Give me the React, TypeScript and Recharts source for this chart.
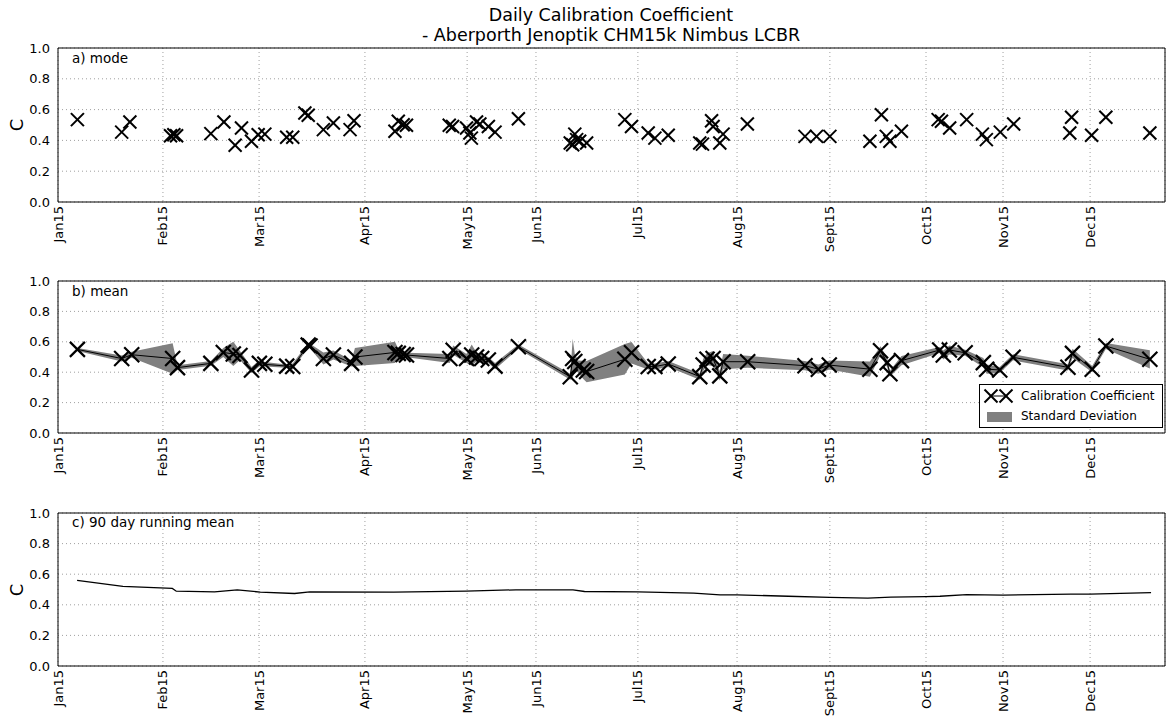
import React from 'react';
import {
  ComposedChart, XAxis, YAxis, CartesianGrid, Scatter, Line, Area, ReferenceArea,
} from 'recharts';

// x axis is in "day" units, 0..365 across the plot width
const tickDays = [0, 34.6, 66.3, 101.2, 134.9, 157.6, 191.2, 223.9, 254.5, 286.2, 311.6, 340.3];
const tickLabels = ['Jan15', 'Feb15', 'Mar15', 'Apr15', 'May15', 'Jun15', 'Jul15', 'Aug15', 'Sept15', 'Oct15', 'Nov15', 'Dec15'];
const yTicks = [0, 0.2, 0.4, 0.6, 0.8, 1.0];

// a) mode
const modeDays = [
  6.4, 21.0, 23.7, 37.1, 38.2, 39.1, 50.4, 54.7, 58.4, 60.5, 63.8, 66.0, 68.2, 75.4, 77.4,
  81.4, 82.5, 87.5, 90.8, 96.3, 97.6, 111.1, 112.2, 113.8, 114.9, 129.0, 130.1, 134.7, 135.8,
  136.3, 138.0, 139.1, 141.9, 144.1, 151.8, 168.9, 169.7, 170.4, 171.0, 172.0, 174.3, 186.9,
  189.1, 194.6, 196.8, 201.2, 211.6, 212.5, 215.5, 216.0, 218.2, 219.3, 227.3, 246.3, 250.1,
  254.5, 267.7, 271.5, 273.1, 274.3, 278.1, 290.2, 291.3, 294.0, 299.6, 304.8, 306.1, 310.7,
  315.1, 333.6, 334.2, 340.8, 345.5, 360.0,
];
const modeValues = [
  0.535, 0.454, 0.52, 0.43, 0.437, 0.43, 0.444, 0.52, 0.368, 0.48, 0.394, 0.437, 0.441, 0.42, 0.42,
  0.578, 0.563, 0.47, 0.513, 0.47, 0.528, 0.459, 0.524, 0.502, 0.498, 0.498, 0.49, 0.48, 0.448,
  0.415, 0.52, 0.507, 0.49, 0.454, 0.541, 0.383, 0.372, 0.441, 0.405, 0.394, 0.383, 0.535,
  0.49, 0.448, 0.415, 0.433, 0.383, 0.376, 0.528, 0.49, 0.383, 0.441, 0.507, 0.426, 0.426,
  0.426, 0.394, 0.567, 0.426, 0.394, 0.459, 0.535, 0.524, 0.48, 0.535, 0.441, 0.405, 0.454,
  0.507, 0.448, 0.55, 0.433, 0.55, 0.448,
];

// b) mean and standard deviation
const meanDays = [
  6.4, 21.0, 24.3, 37.8, 39.4, 50.4, 54.5, 57.8, 60.0, 63.8, 66.4, 68.2, 75.4, 77.4, 82.5, 83.1,
  87.5, 90.8, 96.8, 97.9, 111.1, 112.2, 113.8, 114.9, 129.2, 130.3, 134.7, 136.4, 138.0, 139.7,
  141.9, 144.1, 151.8, 168.9, 169.7, 170.4, 171.5, 173.2, 174.3, 186.9, 189.1, 194.6, 196.8,
  201.2, 211.6, 212.7, 214.0, 216.0, 218.2, 219.3, 227.4, 246.3, 250.7, 254.3, 267.7, 271.2,
  273.4, 274.3, 278.1, 290.7, 291.9, 293.9, 299.1, 305.1, 306.2, 310.5, 314.9, 333.0, 334.5,
  341.0, 345.5, 360.0,
];
const meanValues = [
  0.55, 0.49, 0.515, 0.49, 0.43, 0.458, 0.53, 0.52, 0.51, 0.415, 0.458, 0.452, 0.44, 0.437, 0.578, 0.572,
  0.49, 0.513, 0.458, 0.50, 0.53, 0.524, 0.517, 0.513, 0.49, 0.545, 0.49, 0.513, 0.50, 0.49,
  0.48, 0.44, 0.567, 0.37, 0.49, 0.47, 0.437, 0.415, 0.404, 0.485, 0.528, 0.437, 0.437,
  0.454, 0.371, 0.447, 0.485, 0.49, 0.376, 0.469, 0.469, 0.443, 0.42, 0.447, 0.42, 0.541,
  0.463, 0.39, 0.476, 0.546, 0.513, 0.546, 0.528, 0.463, 0.42, 0.415, 0.498, 0.432, 0.524,
  0.42, 0.572, 0.485,
];
const meanStd = [
  0.01, 0.02, 0.02, 0.10, 0.015, 0.015, 0.03, 0.08, 0.03, 0.02, 0.02, 0.015, 0.01, 0.02, 0.015, 0.015,
  0.04, 0.03, 0.02, 0.06, 0.07, 0.03, 0.02, 0.015, 0.03, 0.03, 0.03, 0.07, 0.03, 0.03,
  0.02, 0.02, 0.015, 0.02, 0.13, 0.05, 0.04, 0.06, 0.07, 0.10, 0.07, 0.02, 0.02,
  0.02, 0.02, 0.04, 0.04, 0.05, 0.03, 0.05, 0.04, 0.03, 0.03, 0.03, 0.05, 0.03,
  0.03, 0.02, 0.03, 0.02, 0.03, 0.03, 0.02, 0.03, 0.03, 0.02, 0.02, 0.02, 0.03,
  0.02, 0.02, 0.06,
];

// c) 90 day running mean
const runDays = [
  6.3, 21.4, 37.7, 39.0, 51.6, 59.1, 66.7, 78.0, 83.0, 110.7, 134.6, 151.0, 169.8, 173.6,
  191.2, 209.6, 218.3, 223.9, 240.8, 254.5, 267.0, 274.6, 286.2, 290.8, 299.6, 311.6, 334.0,
  340.3, 360.4,
];
const runValues = [
  0.559, 0.52, 0.507, 0.489, 0.485, 0.498, 0.483, 0.474, 0.485, 0.483, 0.489, 0.498, 0.498, 0.487,
  0.485, 0.476, 0.465, 0.465, 0.456, 0.448, 0.443, 0.45, 0.454, 0.456, 0.467, 0.463, 0.47,
  0.47, 0.48,
];

const modeData = modeDays.map((d, i) => ({ d, v: modeValues[i] }));
const meanData = meanDays.map((d, i) => ({
  d, v: meanValues[i], band: [meanValues[i] - meanStd[i], meanValues[i] + meanStd[i]],
}));
const runData = runDays.map((d, i) => ({ d, v: runValues[i] }));

const FONT = '"DejaVu Sans", sans-serif';
const W = 1173;

const XMark = ({ cx, cy, r, w }: any) => {
  if (cx == null || cy == null) return null;
  return (
    <g>
      <line x1={cx - r} y1={cy - r} x2={cx + r} y2={cy + r} stroke="#000" strokeWidth={w} />
      <line x1={cx - r} y1={cy + r} x2={cx + r} y2={cy - r} stroke="#000" strokeWidth={w} />
    </g>
  );
};

const XTick = ({ x, y, payload }: any) => {
  const i = tickDays.indexOf(payload.value);
  return (
    <text
      x={x} y={y} transform={`rotate(-90 ${x} ${y})`} textAnchor="end" dy="0.35em"
      fontSize={13} fill="#000" fontFamily={FONT}
    >
      {tickLabels[i]}
    </text>
  );
};

function axes() {
  return [
    <CartesianGrid key="g" stroke="#888" strokeDasharray="1 3" strokeWidth={0.8} />,
    <XAxis
      key="x" type="number" dataKey="d" domain={[0, 365]} ticks={tickDays} interval={0}
      tick={<XTick />} height={44} axisLine={false} tickLine={false} tickSize={3} tickMargin={1}
    />,
    <YAxis
      key="y" type="number" domain={[0, 1]} ticks={yTicks} width={50}
      tickFormatter={(v: number) => v.toFixed(1)} axisLine={false} tickLine={false}
      tick={{ fontSize: 13, fill: '#000', fontFamily: FONT }}
    />,
    <ReferenceArea key="frame" x1={0} x2={365} y1={0} y2={1} fill="none" stroke="#000" strokeWidth={1} strokeOpacity={1} />,
  ];
}

const margin = { top: 48, right: 8, bottom: 16, left: 8 };
const txt = (extra: React.CSSProperties): React.CSSProperties => ({
  position: 'absolute', fontFamily: FONT, color: '#000', whiteSpace: 'nowrap', lineHeight: 1, ...extra,
});

export default function App() {
  return (
    <div style={{ position: 'absolute', left: 0, top: 0, width: W, height: 720, background: '#fff', overflow: 'hidden' }}>
      <div style={txt({ left: 0, width: 1222, textAlign: 'center', top: 7, fontSize: 17.5 })}>
        Daily Calibration Coefficient
      </div>
      <div style={txt({ left: 0, width: 1222, textAlign: 'center', top: 27, fontSize: 17.5 })}>
        - Aberporth Jenoptik CHM15k Nimbus LCBR
      </div>

      {/* a) mode */}
      <div style={{ position: 'absolute', left: 0, top: 0 }}>
        <ComposedChart width={W} height={262} data={modeData} margin={margin}>
          {axes()}
          <Scatter
            dataKey="v" isAnimationActive={false}
            shape={(p: any) => <XMark cx={p.cx} cy={p.cy} r={6.5} w={2} />}
          />
        </ComposedChart>
      </div>

      {/* b) mean */}
      <div style={{ position: 'absolute', left: 0, top: 233 }}>
        <ComposedChart width={W} height={260} data={meanData} margin={margin}>
          {axes()}
          <Area
            dataKey="band" type="linear" stroke="none" fill="#808080" fillOpacity={1}
            isAnimationActive={false} activeDot={false}
          />
          <Line
            dataKey="v" type="linear" stroke="#000" strokeWidth={1} isAnimationActive={false}
            activeDot={false}
            dot={(p: any) => <XMark key={`m${p.index}`} cx={p.cx} cy={p.cy} r={7.5} w={2.2} />}
          />
        </ComposedChart>
      </div>

      {/* c) running mean */}
      <div style={{ position: 'absolute', left: 0, top: 465 }}>
        <ComposedChart width={W} height={261} data={runData} margin={margin}>
          {axes()}
          <Line
            dataKey="v" type="linear" stroke="#000" strokeWidth={1.3} dot={false}
            activeDot={false} isAnimationActive={false}
          />
        </ComposedChart>
      </div>

      <div style={txt({ left: 72, top: 52, fontSize: 13.5 })}>a) mode</div>
      <div style={txt({ left: 72, top: 285, fontSize: 13.5 })}>b) mean</div>
      <div style={txt({ left: 72, top: 516, fontSize: 13.5 })}>c) 90 day running mean</div>

      <div style={txt({ left: 17, top: 125, fontSize: 18, transform: 'translate(-50%, -50%) rotate(-90deg)' })}>C</div>
      <div style={txt({ left: 17, top: 590, fontSize: 18, transform: 'translate(-50%, -50%) rotate(-90deg)' })}>C</div>

      {/* legend for panel b */}
      <div style={{ position: 'absolute', left: 979, top: 384, width: 184, height: 44, border: '1px solid #000', background: '#fff', boxSizing: 'border-box' }}>
        <svg width={40} height={44} style={{ position: 'absolute', left: 0, top: 0 }}>
          <line x1={11} y1={11} x2={26} y2={11} stroke="#000" strokeWidth={1} />
          <XMark cx={11} cy={11} r={6.5} w={2} />
          <XMark cx={26} cy={11} r={6.5} w={2} />
          <rect x={7} y={27} width={25} height={10} fill="#808080" />
        </svg>
        <div style={txt({ left: 41, top: 5, fontSize: 12 })}>Calibration Coefficient</div>
        <div style={txt({ left: 41, top: 25, fontSize: 12 })}>Standard Deviation</div>
      </div>
    </div>
  );
}
